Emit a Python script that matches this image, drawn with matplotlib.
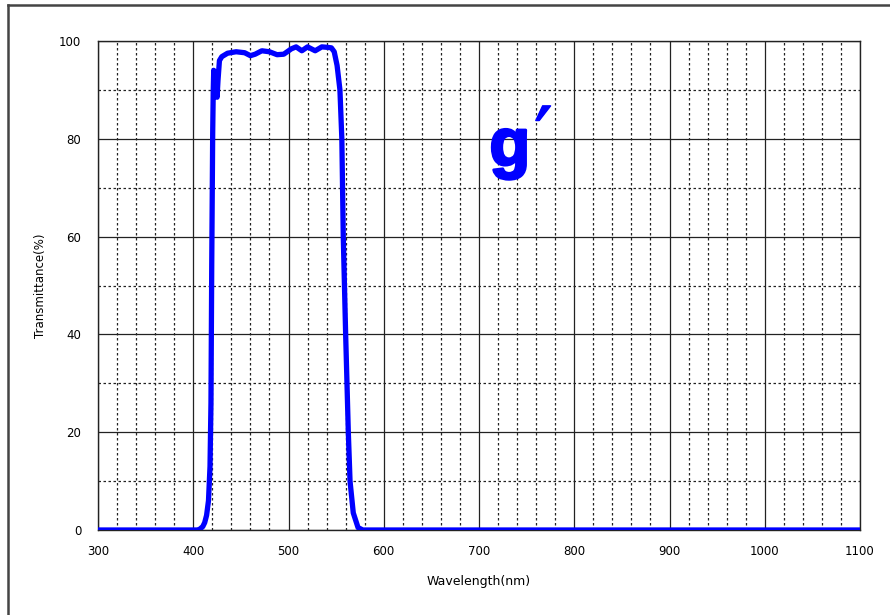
import matplotlib
matplotlib.use("Agg")
import matplotlib.pyplot as plt
from matplotlib.lines import Line2D
from matplotlib.ticker import MultipleLocator
import matplotlib.patheffects as pe

wavelength = [300, 350, 400, 405, 407, 410, 412, 414, 416, 417.6, 418.6, 419.4, 420.4,
              421.0, 421.5, 422.5, 424, 425, 426, 427.5, 430, 436, 445, 454, 460, 465,
              472, 480, 488, 495, 503, 508, 514, 520, 528, 535, 541, 545, 548, 551,
              554, 556, 557.5, 560, 562.8, 564.6, 568, 573, 578, 600, 800, 1000, 1100]
transmittance = [0, 0, 0, 0, 0.2, 0.7, 1.5, 3, 6, 13, 26, 54, 81,
                 90, 94, 89, 93, 88.5, 92, 96, 96.8, 97.5, 97.8, 97.6, 97.0, 97.3,
                 98.0, 97.8, 97.2, 97.3, 98.4, 98.8, 98.0, 98.8, 98.0, 98.8, 98.7, 98.6, 97.8, 95,
                 90, 80, 60, 40, 20, 10, 3.5, 0.5, 0, 0, 0, 0, 0]

x_ticks = [300, 400, 500, 600, 700, 800, 900, 1000, 1100]
y_ticks = [0, 20, 40, 60, 80, 100]

W, H = 890, 615
fig = plt.figure(figsize=(W / 100, H / 100), dpi=100)
ax = fig.add_axes([98 / W, 1 - 530 / H, (860 - 98) / W, (530 - 41) / H])

ax.plot(wavelength, transmittance, color="#0000ff", lw=3.8, solid_capstyle="butt",
        solid_joinstyle="round", zorder=3)

ax.set_xlim(300, 1100)
ax.set_ylim(0, 100)
ax.set_xticks(x_ticks)
ax.set_yticks(y_ticks)
ax.xaxis.set_minor_locator(MultipleLocator(20))
ax.yaxis.set_minor_locator(MultipleLocator(10))
ax.grid(which="major", color="#222222", lw=0.9, ls="-", zorder=1)
ax.grid(which="minor", color="#222222", lw=0.9, ls=(0, (2, 2)), zorder=1)
ax.tick_params(which="both", length=0)
ax.tick_params(axis="x", pad=11, labelsize=8.5)
ax.tick_params(axis="y", pad=12, labelsize=8.5)
for s in ax.spines.values():
    s.set_color("#222222")
    s.set_linewidth(1.0)

ax.set_xlabel("Wavelength(nm)", fontsize=9, labelpad=12)
ax.set_ylabel("Transmittance(%)", fontsize=8.5, labelpad=9)

bold = [pe.Stroke(linewidth=2.0, foreground="#0000ff"), pe.Normal()]
ax.text(711, 74.6, "g", color="#0000ff", fontsize=48, fontweight="bold",
        family=["Liberation Sans", "DejaVu Sans"], ha="left", va="baseline", zorder=4,
        path_effects=bold)
ax.text(758, 87.2, "\u2032", color="#0000ff", fontsize=58,
        family=["DejaVu Sans"], ha="left", va="top", zorder=4,
        path_effects=[pe.Stroke(linewidth=1.0, foreground="#0000ff"), pe.Normal()])

# outer frame
fig.add_artist(Line2D([8 / W, 1.0], [1 - 5 / H, 1 - 5 / H], transform=fig.transFigure,
                      color="#444444", lw=1.8))
fig.add_artist(Line2D([8 / W, 8 / W], [0, 1 - 5 / H], transform=fig.transFigure,
                      color="#444444", lw=1.8))

fig.savefig("out.png", dpi=100)
